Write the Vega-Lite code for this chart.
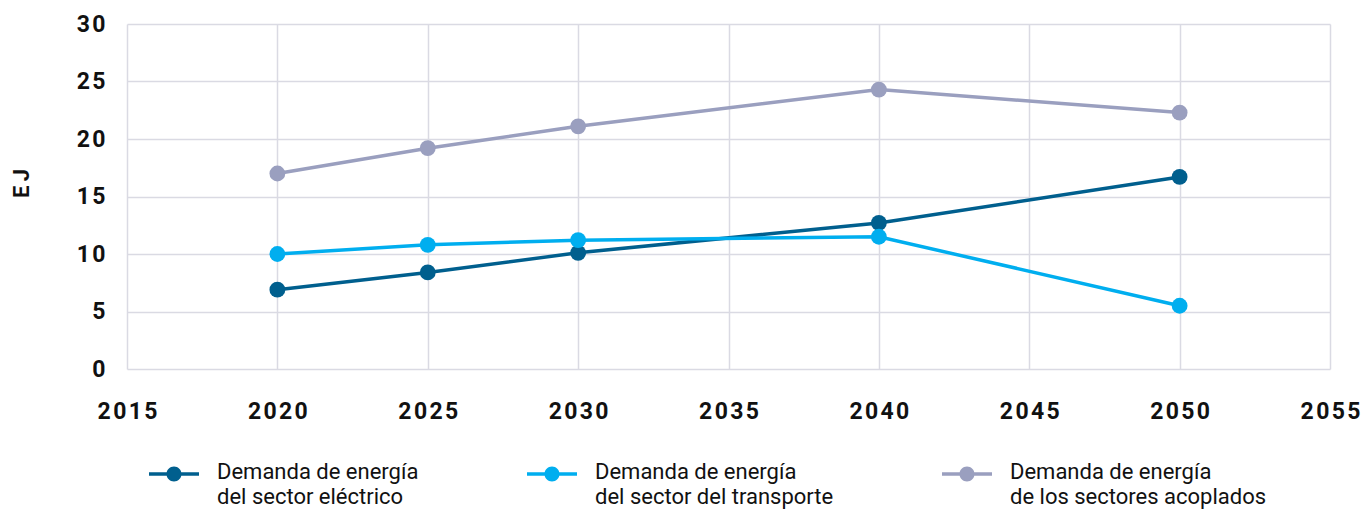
{
  "$schema": "https://vega.github.io/schema/vega-lite/v6.json",
  "width": 1203,
  "height": 345,
  "autosize": "none",
  "padding": {"left": 127, "top": 24, "right": 32, "bottom": 141},
  "background": "white",
  "config": {
    "view": {"stroke": null},
    "font": "Roboto"
  },
  "data": {
    "values": [
      {"year": 2020, "value": 6.9, "serie": "Demanda de energía|del sector eléctrico"},
      {"year": 2025, "value": 8.4, "serie": "Demanda de energía|del sector eléctrico"},
      {"year": 2030, "value": 10.1, "serie": "Demanda de energía|del sector eléctrico"},
      {"year": 2040, "value": 12.7, "serie": "Demanda de energía|del sector eléctrico"},
      {"year": 2050, "value": 16.7, "serie": "Demanda de energía|del sector eléctrico"},
      {"year": 2020, "value": 10.0, "serie": "Demanda de energía|del sector del transporte"},
      {"year": 2025, "value": 10.8, "serie": "Demanda de energía|del sector del transporte"},
      {"year": 2030, "value": 11.2, "serie": "Demanda de energía|del sector del transporte"},
      {"year": 2040, "value": 11.5, "serie": "Demanda de energía|del sector del transporte"},
      {"year": 2050, "value": 5.5, "serie": "Demanda de energía|del sector del transporte"},
      {"year": 2020, "value": 17.0, "serie": "Demanda de energía|de los sectores acoplados"},
      {"year": 2025, "value": 19.2, "serie": "Demanda de energía|de los sectores acoplados"},
      {"year": 2030, "value": 21.1, "serie": "Demanda de energía|de los sectores acoplados"},
      {"year": 2040, "value": 24.3, "serie": "Demanda de energía|de los sectores acoplados"},
      {"year": 2050, "value": 22.3, "serie": "Demanda de energía|de los sectores acoplados"}
    ]
  },
  "encoding": {
    "x": {
      "field": "year", "type": "quantitative",
      "scale": {"domain": [2015, 2055], "nice": false, "zero": false},
      "axis": {
        "title": null,
        "values": [2015, 2020, 2025, 2030, 2035, 2040, 2045, 2050, 2055],
        "format": "d",
        "labelExpr": "join(split(datum.label, ''), '\u200a')",
        "labelFont": "Roboto", "labelFontSize": 23, "labelFontWeight": "bold", "labelColor": "#111111",
        "labelPadding": 31, "labelFlush": false, "labelOverlap": false,
        "domain": false, "ticks": false,
        "grid": true, "gridColor": "#dadae3", "gridWidth": 1.5
      }
    },
    "y": {
      "field": "value", "type": "quantitative",
      "scale": {"domain": [0, 30], "nice": false},
      "axis": {
        "title": "E\u200a\u200aJ",
        "titleFont": "Roboto", "titleFontSize": 22, "titleFontWeight": "bold", "titleColor": "#111111",
        "titleX": -106, "titleY": 159, "titleAngle": -90, "titleAlign": "center", "titleBaseline": "middle",
        "values": [0, 5, 10, 15, 20, 25, 30],
        "labelExpr": "join(split(datum.label, ''), '\u200a')",
        "labelFont": "Roboto", "labelFontSize": 23, "labelFontWeight": "bold", "labelColor": "#111111",
        "labelPadding": 22, "labelFlush": false, "labelOverlap": false,
        "domain": false, "ticks": false,
        "grid": true, "gridColor": "#dadae3", "gridWidth": 1.5
      }
    },
    "color": {
      "field": "serie", "type": "nominal",
      "scale": {
        "domain": ["Demanda de energía|del sector eléctrico", "Demanda de energía|del sector del transporte", "Demanda de energía|de los sectores acoplados"],
        "range": ["#005f8e", "#00aeef", "#9a9fbf"]
      },
      "legend": {
        "title": null,
        "orient": "none",
        "legendX": 36,
        "legendY": 439,
        "direction": "horizontal",
        "symbolType": "M-2.5,-0.175H-0.72V0.175H-2.5Z M0.72,-0.175H2.5V0.175H0.72Z M0.75,0A0.75,0.75 0 1 1 -0.75,0A0.75,0.75 0 1 1 0.75,0Z",
        "symbolSize": 400,
        "symbolStrokeWidth": 0,
        "symbolOpacity": 1,
        "labelExpr": "split(datum.label, '|')",
        "labelFont": "Roboto", "labelFontSize": 22, "labelColor": "#111111",
        "labelLimit": 400,
        "labelOffset": 32,
        "labelBaseline": "top",
        "columnPadding": 108,
        "encode": {
          "symbols": {"update": {"fill": {"scale": "color", "field": "value"}, "stroke": {"value": "transparent"}, "opacity": {"value": 1}}},
          "labels": {"update": {"lineHeight": {"value": 25}, "dy": {"value": -12}}}
        }
      }
    }
  },
  "layer": [
    {
      "mark": {"type": "line", "strokeWidth": 3.5}
    },
    {
      "mark": {"type": "point", "filled": true, "opacity": 1, "size": 250}
    }
  ]
}
